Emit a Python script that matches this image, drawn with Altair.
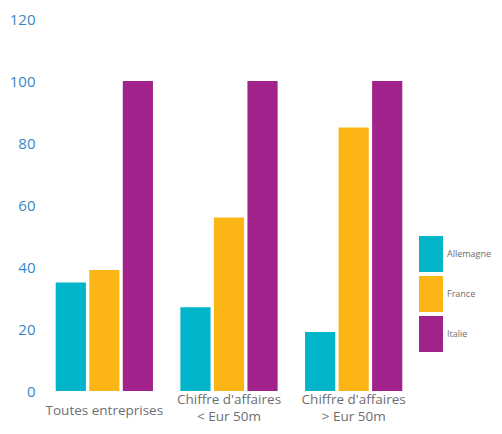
import altair as alt
import pandas as pd

categories = ["Toutes entreprises", "Chiffre d'affaires\n< Eur 50m", "Chiffre d'affaires\n> Eur 50m"]
series = ["Allemagne", "France", "Italie"]
allemagne = [35, 27, 19]
france = [39, 56, 85]
italie = [100, 100, 100]
colors = ["#00b4c9", "#fbb615", "#a0228a"]

rows = []
for i, c in enumerate(categories):
    for s, vals in zip(series, [allemagne, france, italie]):
        rows.append({"cat": c, "pays": s, "val": vals[i]})
df = pd.DataFrame(rows)

chart = alt.Chart(df).mark_bar().encode(
    x=alt.X("cat:N", sort=categories, title=None,
            scale=alt.Scale(paddingInner=0.22, paddingOuter=0.11),
            axis=alt.Axis(labelAngle=0, domain=False, ticks=False,
                          labelExpr="split(datum.label, '\\n')",
                          labelBaseline="top",
                          labelPadding={"condition": {"test": "indexof(datum.value, 'Toutes') >= 0", "value": 12}, "value": 1},
                          labelLineHeight=17, labelFontSize=13.5,
                          labelColor="#6d6e71", labelFont="Open Sans",
                          labelLimit=200)),
    xOffset=alt.XOffset("pays:N", sort=series, scale=alt.Scale(paddingInner=0.1)),
    y=alt.Y("val:Q", title=None,
            scale=alt.Scale(domain=[0, 120], nice=False),
            axis=alt.Axis(values=[0, 20, 40, 60, 80, 100, 120], grid=False,
                          domain=False, ticks=False, labelPadding=7,
                          labelFontSize=15, labelColor="#3a86c6",
                          labelFont="Open Sans")),
    color=alt.Color("pays:N", sort=series,
                    scale=alt.Scale(domain=series, range=colors),
                    legend=alt.Legend(title=None, orient="none",
                                      legendX=377, legendY=223,
                                      symbolType="M-1,-1.5H1V1.5H-1Z",
                                      symbolSize=576, symbolStrokeWidth=0,
                                      rowPadding=4, labelFontSize=9,
                                      labelColor="#6d6e71", labelFont="Open Sans",
                                      labelOffset=4, labelLimit=100)),
).properties(
    width=374, height=372,
    autosize=alt.AutoSizeParams(type="none"),
    padding={"left": 34, "top": 11, "right": 78, "bottom": 35},
).configure_view(stroke=None)

chart.save("out.html", embed_options={"renderer": "svg", "actions": False})
